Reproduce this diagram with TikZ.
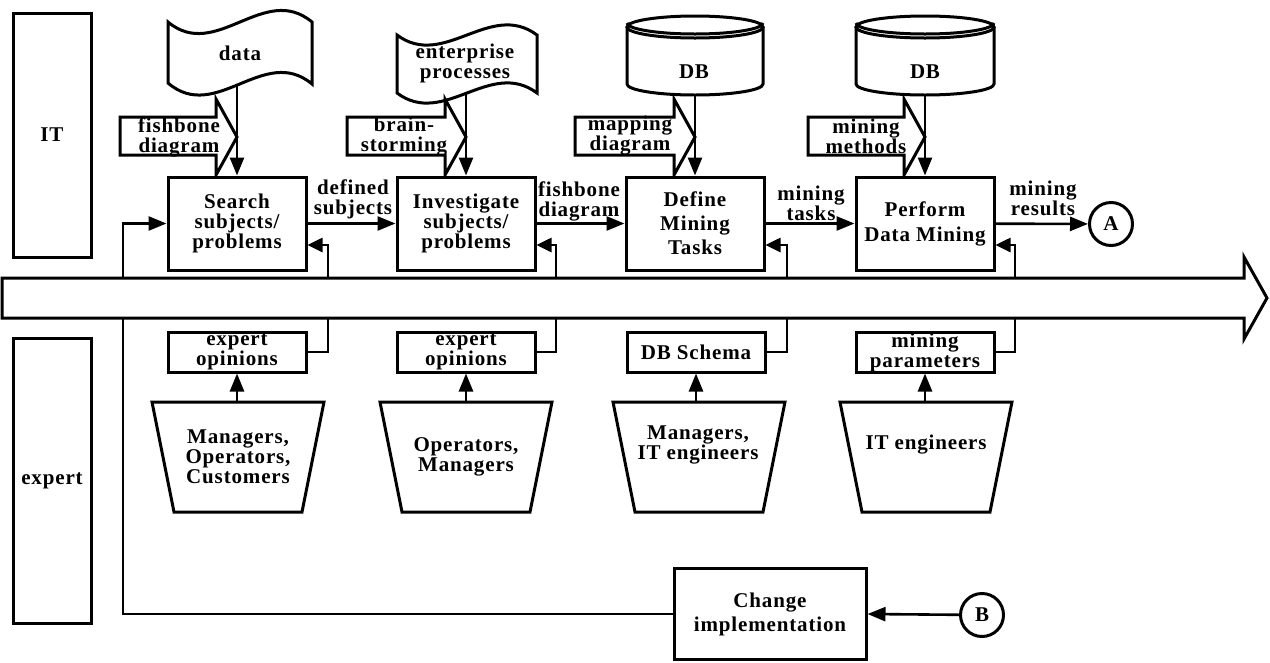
\documentclass[tikz,border=0pt]{standalone}
\usepackage{fontspec}
\setmainfont{Liberation Serif}[LetterSpace=4]
\usetikzlibrary{arrows.meta}
\newcommand\figfont{\fontsize{21}{20}\selectfont\bfseries}
\tikzset{
  every node/.style={font=\figfont, align=center, inner sep=0pt},
  shp/.style={draw, line width=3pt, line join=miter},
  procbox/.style={shp, fill=white, minimum width=138pt, minimum height=93pt},
  infobox/.style={shp, fill=white, minimum width=138pt, minimum height=40pt},
  lanebox/.style={shp, minimum width=78pt},
  endpt/.style={shp, circle, minimum size=43pt},
  wire/.style={line width=2.6pt},
  conn/.style={wire, -{Triangle[length=18pt,width=14pt]}},
  fbconn/.style={wire, -{Triangle[length=15pt,width=14pt]}},
}
\begin{document}
\begin{tikzpicture}[x=1pt, y=-1pt]
\useasboundingbox (0,0) rectangle (1270,662);

% swim lanes
\node[lanebox, minimum height=244pt] (it) at (52,135) {IT};
\node[lanebox, minimum height=285pt] (ex) at (52,480.5) {expert};

% inputs on top: data tapes
\draw[shp, fill=white] (168,22) .. controls (216,62) and (264,-18) .. (312,22)
  -- (312,84) .. controls (264,44) and (216,124) .. (168,83) -- cycle;
\node (data) at (240,53) {data};
\coordinate (data-b) at (237,84);

\draw[shp, fill=white] (397,35) .. controls (444,70) and (490,0) .. (537,35)
  -- (537,93) .. controls (490,58) and (444,128) .. (397,93) -- cycle;
\node (ent) at (465,63) {enterprise\\processes};
\coordinate (ent-b) at (466,93);

% databases
\draw[shp, fill=white] (627,27) -- (627,84) arc[start angle=180, end angle=360, x radius=68pt, y radius=11pt] -- (763,27);
\draw[shp, fill=white] (695,27) ellipse[x radius=68pt, y radius=11pt];
\draw[shp] (627,23) arc[start angle=180, end angle=360, x radius=68pt, y radius=11pt];
\node (db1) at (694,72) {DB};
\coordinate (db1-b) at (695,95);

\draw[shp, fill=white] (856,27) -- (856,84) arc[start angle=180, end angle=360, x radius=69pt, y radius=11pt] -- (994,27);
\draw[shp, fill=white] (925,27) ellipse[x radius=69pt, y radius=11pt];
\draw[shp] (856,23) arc[start angle=180, end angle=360, x radius=69pt, y radius=11pt];
\node (db2) at (925,72) {DB};
\coordinate (db2-b) at (925,95);

% method block arrows
\draw[shp, fill=white] (120,117) -- (216,117) -- (216,99) -- (237,137) -- (216,175) -- (216,155) -- (120,155) -- cycle;
\node (ba1) at (179,137) {fishbone\\diagram};
\draw[shp, fill=white] (347,117) -- (445,117) -- (445,99) -- (466,137) -- (445,175) -- (445,155) -- (347,155) -- cycle;
\node (ba2) at (404,137) {brain-\\storming};
\draw[shp, fill=white] (575,117) -- (674,117) -- (674,99) -- (695,137) -- (674,175) -- (674,155) -- (575,155) -- cycle;
\node (ba3) at (630,136) {mapping\\diagram};
\draw[shp, fill=white] (808,117) -- (904,117) -- (904,99) -- (925,137) -- (904,175) -- (904,155) -- (808,155) -- cycle;
\node (ba4) at (866,136) {mining\\methods};

% process steps
\node[procbox] (search) at (237,223.5) {Search\\subjects/\\problems};
\node[procbox] (invest) at (466,223.5) {Investigate\\subjects/\\problems};
\node[procbox] (define) at (695,223.5) {Define\\[4pt]Mining\\[4pt]Tasks};
\node[procbox] (perform) at (925,223.5) {Perform\\[5pt]Data Mining};
\node[endpt] (A) at (1111,224) {A};

% flow labels
\node (l1) at (353,199) {defined\\subjects};
\node (l2) at (579,201) {fishbone\\diagram};
\node (l3) at (811,203) {mining\\tasks};
\node (l4) at (1043,198) {mining\\results};

% expert contributions
\node[infobox] (eo1) at (237,352) {expert\\opinions};
\node[infobox] (eo2) at (466,352) {expert\\opinions};
\node[infobox] (dbs) at (696,352) {DB Schema};
\node[infobox] (mp) at (925,352) {mining\\parameters};

% expert groups
\draw[shp] (152,402) -- (324,402) -- (302,512) -- (174,512) -- cycle;
\node (t1) at (238,457) {Managers,\\Operators,\\Customers};
\coordinate (t1-top) at (237,402);
\draw[shp] (380,402) -- (552,402) -- (530,512) -- (402,512) -- cycle;
\node (t2) at (466,457) {Operators,\\Managers};
\coordinate (t2-top) at (466,402);
\draw[shp] (613,402) -- (785,402) -- (763,512) -- (635,512) -- cycle;
\node (t3) at (698,445) {Managers,\\IT engineers};
\coordinate (t3-top) at (696,402);
\draw[shp] (840,402) -- (1012,402) -- (990,512) -- (862,512) -- cycle;
\node (t4) at (926,445) {IT engineers};
\coordinate (t4-top) at (925,402);

% change step
\node[shp, minimum width=192pt, minimum height=91pt] (chg) at (770,614) {Change\\[4pt]implementation};
\node[endpt] (B) at (982,615) {B};

% connectors
\draw[conn] (data-b) -- (search.north);
\draw[conn] (ent-b) -- (invest.north);
\draw[conn] (db1-b) -- (define.north);
\draw[conn] (db2-b) -- (perform.north);

\draw[conn] (search) -- (invest);
\draw[conn] (invest) -- (define);
\draw[conn] (define) -- (perform);
\draw[conn] (perform) -- (A);

\draw[conn] (t1-top) -- (eo1.south);
\draw[conn] (t2-top) -- (eo2.south);
\draw[conn] (t3-top) -- (dbs.south);
\draw[conn] (t4-top) -- (mp.south);

\coordinate (fb1) at (328,245);
\coordinate (fb2) at (556,245);
\coordinate (fb3) at (787,245);
\coordinate (fb4) at (1015,245);
\draw[fbconn] (eo1.east) -| (fb1) -- (fb1 -| search.east);
\draw[fbconn] (eo2.east) -| (fb2) -- (fb2 -| invest.east);
\draw[fbconn] (dbs.east) -| (fb3) -- (fb3 -| define.east);
\draw[fbconn] (mp.east) -| (fb4) -- (fb4 -| perform.east);

\coordinate (lp) at (123,223.5);
\draw[conn] (chg.west) -| (lp) -- (search.west);
\draw[conn] (B) -- (chg.east);

% time line arrow across both lanes
\draw[shp, fill=white] (2,278) -- (1244,278) -- (1244,257) -- (1267,298) -- (1244,339) -- (1244,318) -- (2,318) -- cycle;
\end{tikzpicture}
\end{document}
